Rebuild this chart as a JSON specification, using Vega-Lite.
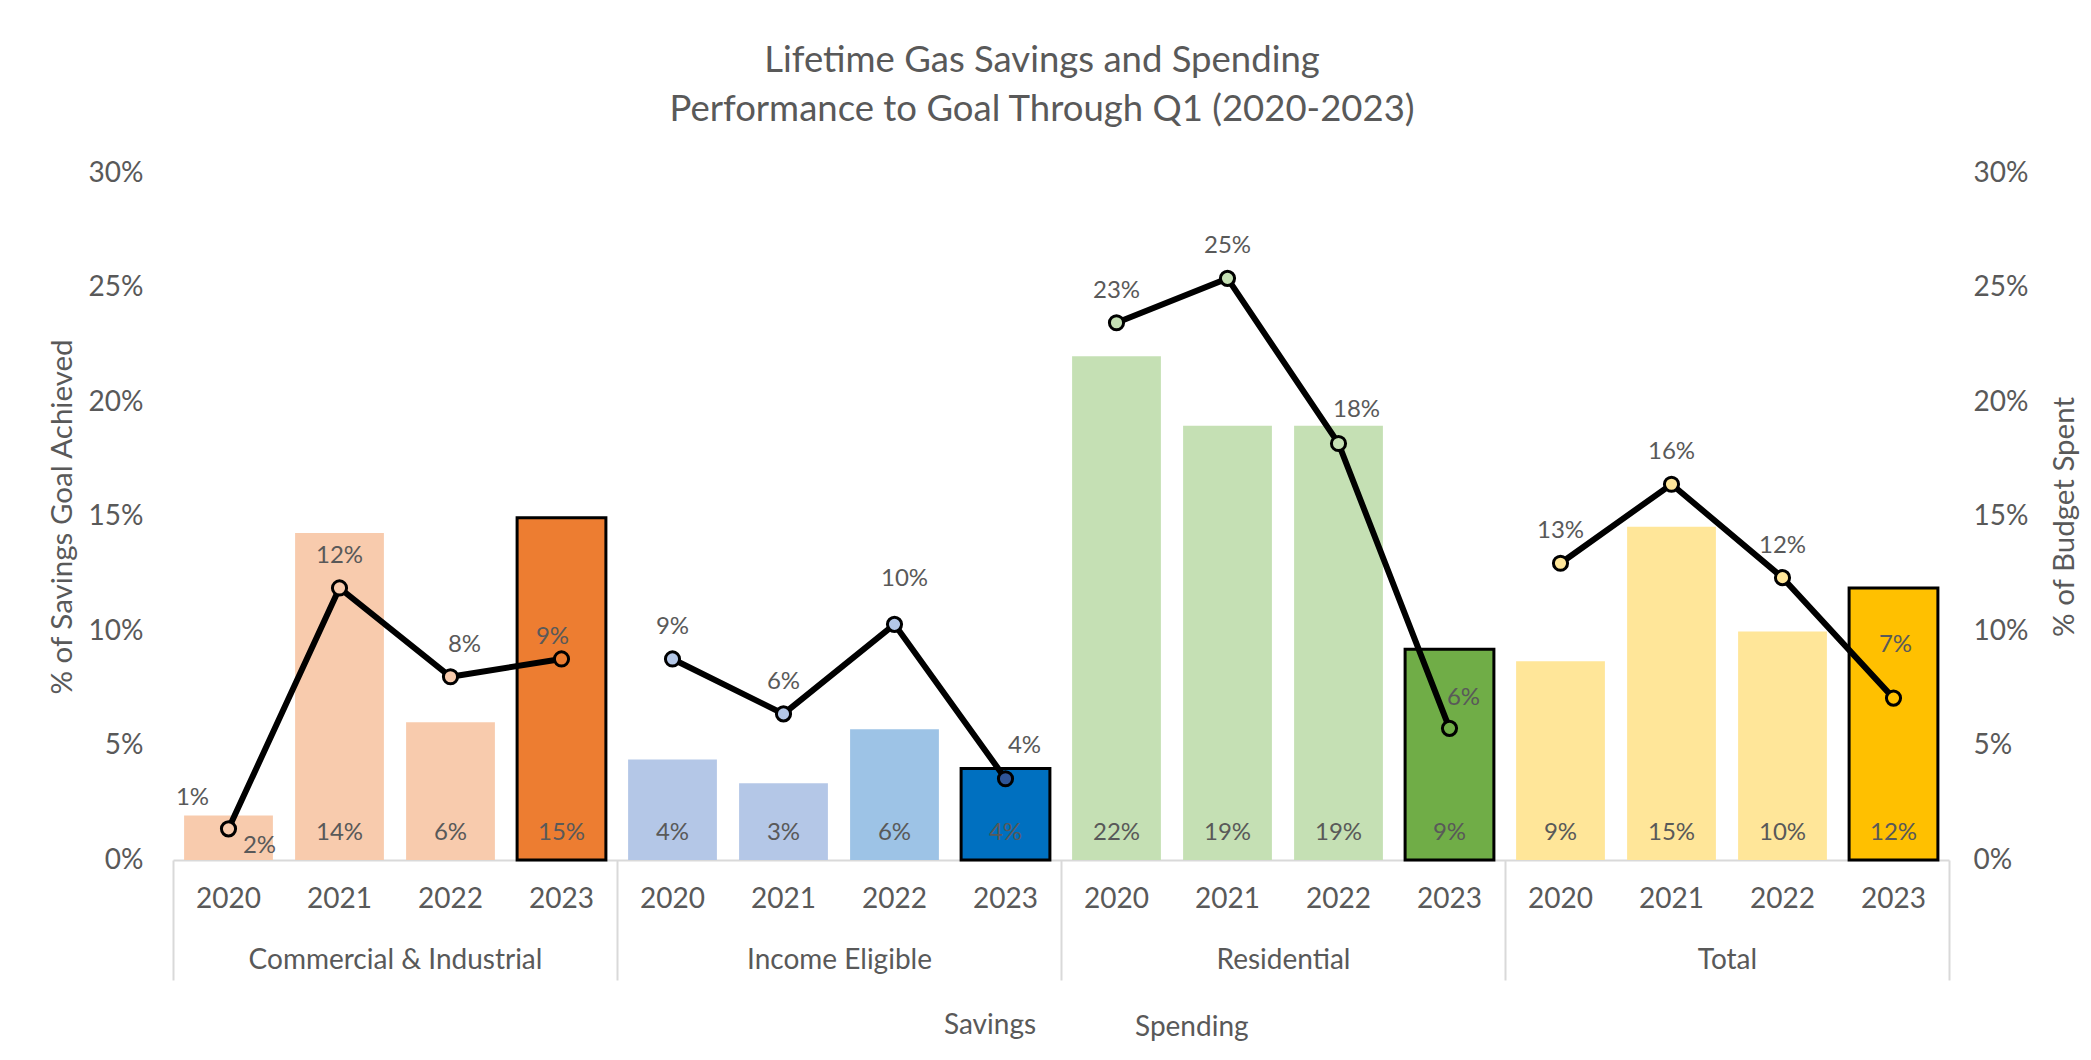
{
  "$schema": "https://vega.github.io/schema/vega-lite/v6.json",
  "width": 1776,
  "height": 687,
  "autosize": {"type": "none"},
  "padding": {"left": 173, "top": 173, "right": 142, "bottom": 200},
  "background": "white",
  "config": {"font": "Lato", "view": {"stroke": null}},
  "title": {
    "text": ["Lifetime Gas Savings and Spending", "Performance to Goal Through Q1 (2020-2023)"],
    "fontSize": 36.5,
    "font": "Lato",
    "fontWeight": "normal",
    "color": "#595959",
    "lineHeight": 49,
    "anchor": "middle",
    "frame": "group",
    "offset": 31,
    "dx": -19
  },
  "data": {
    "values": [
      {"group": "Commercial & Industrial", "year": "2020", "savings": 0.0194, "spending": 0.0136},
      {"group": "Commercial & Industrial", "year": "2021", "savings": 0.1428, "spending": 0.1188},
      {"group": "Commercial & Industrial", "year": "2022", "savings": 0.0602, "spending": 0.0800},
      {"group": "Commercial & Industrial", "year": "2023", "savings": 0.1495, "spending": 0.0878},
      {"group": "Income Eligible", "year": "2020", "savings": 0.0439, "spending": 0.0878},
      {"group": "Income Eligible", "year": "2021", "savings": 0.0335, "spending": 0.0638},
      {"group": "Income Eligible", "year": "2022", "savings": 0.0571, "spending": 0.1029},
      {"group": "Income Eligible", "year": "2023", "savings": 0.0400, "spending": 0.0355},
      {"group": "Residential", "year": "2020", "savings": 0.2200, "spending": 0.2346},
      {"group": "Residential", "year": "2021", "savings": 0.1896, "spending": 0.2540},
      {"group": "Residential", "year": "2022", "savings": 0.1896, "spending": 0.1819},
      {"group": "Residential", "year": "2023", "savings": 0.0920, "spending": 0.0575},
      {"group": "Total", "year": "2020", "savings": 0.0868, "spending": 0.1296},
      {"group": "Total", "year": "2021", "savings": 0.1455, "spending": 0.1641},
      {"group": "Total", "year": "2022", "savings": 0.0998, "spending": 0.1233},
      {"group": "Total", "year": "2023", "savings": 0.1188, "spending": 0.0707}
    ]
  },
  "encoding": {
    "x": {
      "field": "group",
      "type": "nominal",
      "sort": ["Commercial & Industrial", "Income Eligible", "Residential", "Total"],
      "scale": {"paddingInner": 0, "paddingOuter": 0},
      "axis": {
        "title": null,
        "labelAngle": 0,
        "labelFontSize": 28,
        "labelColor": "#595959",
        "labelPadding": -20,
        "labelBaseline": "middle",
        "labelLimit": 0,
        "domainColor": "#D9D9D9",
        "domainWidth": 2,
        "tickColor": "#D9D9D9",
        "tickWidth": 2,
        "tickSize": 120,
        "tickBand": "extent",
        "grid": false
      }
    },
    "xOffset": {
      "field": "year",
      "type": "nominal",
      "sort": ["2020", "2021", "2022", "2023"],
      "scale": {"paddingInner": 0.2, "paddingOuter": 0.1}
    }
  },
  "layer": [
    {
      "encoding": {
        "y": {
          "field": "savings",
          "type": "quantitative",
          "scale": {"domain": [0, 0.3]},
          "axis": {
            "orient": "left",
            "values": [0, 0.05, 0.1, 0.15, 0.2, 0.25, 0.3],
            "format": ".0%",
            "grid": false,
            "domain": false,
            "ticks": false,
            "labelFontSize": 28,
            "labelColor": "#595959",
            "labelPadding": 30,
            "title": "% of Savings Goal Achieved",
            "titleFontSize": 29.5,
            "titleFontWeight": "normal",
            "titleColor": "#595959",
            "titlePadding": 11
          }
        }
      },
      "layer": [
        {
          "mark": {"type": "bar", "stroke": "black"},
          "encoding": {
            "fill": {
              "field": "group",
              "type": "nominal",
              "legend": null,
              "scale": {
                "domain": ["Commercial & Industrial", "Income Eligible", "Residential", "Total"],
                "range": ["#F8CBAD", "#B4C7E7", "#C5E0B4", "#FFE699"]
              },
              "condition": [
                {"test": "datum.year === '2023' && datum.group === 'Commercial & Industrial'", "value": "#ED7D31"},
                {"test": "datum.year === '2023' && datum.group === 'Income Eligible'", "value": "#0070C0"},
                {"test": "datum.year === '2023' && datum.group === 'Residential'", "value": "#70AD47"},
                {"test": "datum.year === '2023' && datum.group === 'Total'", "value": "#FFC000"},
                {"test": "datum.year === '2022' && datum.group === 'Income Eligible'", "value": "#9DC3E6"}
              ]
            },
            "strokeWidth": {"condition": {"test": "datum.year === '2023'", "value": 3}, "value": 0}
          }
        },
        {
          "transform": [{"filter": "!(datum.group === 'Commercial & Industrial' && datum.year === '2020')"}],
          "mark": {"type": "text", "baseline": "middle", "dy": -27, "fontSize": 24, "color": "#595959"},
          "encoding": {
            "y": {"datum": 0},
            "text": {"field": "savings", "type": "quantitative", "format": ".0%"}
          }
        },
        {
          "transform": [{"filter": "datum.group === 'Commercial & Industrial' && datum.year === '2020'"}],
          "mark": {"type": "text", "baseline": "middle", "dx": 31, "dy": -14, "fontSize": 24, "color": "#595959"},
          "encoding": {
            "y": {"datum": 0},
            "text": {"field": "savings", "type": "quantitative", "format": ".0%"}
          }
        },
        {
          "mark": {"type": "text", "baseline": "middle", "dy": 40, "fontSize": 28, "color": "#595959"},
          "encoding": {
            "y": {"datum": 0},
            "text": {"field": "year", "type": "nominal"}
          }
        }
      ]
    },
    {
      "encoding": {
        "y": {
          "field": "spending",
          "type": "quantitative",
          "scale": {"domain": [0, 0.3]},
          "axis": {
            "orient": "right",
            "values": [0, 0.05, 0.1, 0.15, 0.2, 0.25, 0.3],
            "format": ".0%",
            "grid": false,
            "domain": false,
            "ticks": false,
            "labelFontSize": 28,
            "labelColor": "#595959",
            "labelPadding": 24,
            "title": "% of Budget Spent",
            "titleFontSize": 29.5,
            "titleFontWeight": "normal",
            "titleColor": "#595959",
            "titleAngle": 270,
            "titlePadding": 52
          }
        }
      },
      "layer": [
        {
          "mark": {"type": "line", "color": "black", "strokeWidth": 6},
          "encoding": {"detail": {"field": "group", "type": "nominal"}}
        },
        {
          "mark": {"type": "point", "filled": true, "size": 200, "stroke": "black", "strokeWidth": 3, "opacity": 1},
          "encoding": {
            "fill": {
              "field": "group",
              "type": "nominal",
              "legend": null,
              "condition": [
                {"test": "datum.year === '2023' && datum.group === 'Commercial & Industrial'", "value": "#ED7D31"},
                {"test": "datum.year === '2023' && datum.group === 'Income Eligible'", "value": "#2F5597"},
                {"test": "datum.year === '2023' && datum.group === 'Residential'", "value": "#70AD47"},
                {"test": "datum.year === '2023' && datum.group === 'Total'", "value": "#FFC000"}
              ]
            }
          }
        },
        {
          "transform": [{"filter": "!((datum.group === 'Commercial & Industrial' && (datum.year === '2020' || datum.year === '2022' || datum.year === '2023')) || (datum.group === 'Income Eligible' && (datum.year === '2022' || datum.year === '2023')) || (datum.group === 'Residential' && (datum.year === '2022' || datum.year === '2023')) || (datum.group === 'Total' && datum.year === '2023'))"}],
          "mark": {"type": "text", "baseline": "middle", "dy": -32, "fontSize": 24, "color": "#595959"},
          "encoding": {"text": {"field": "spending", "type": "quantitative", "format": ".0%"}}
        },
        {
          "transform": [{"filter": "datum.group === 'Commercial & Industrial' && datum.year === '2020'"}],
          "mark": {"type": "text", "baseline": "middle", "dx": -36, "dy": -31, "fontSize": 24, "color": "#595959"},
          "encoding": {"text": {"field": "spending", "type": "quantitative", "format": ".0%"}}
        },
        {
          "transform": [{"filter": "datum.group === 'Commercial & Industrial' && datum.year === '2022'"}],
          "mark": {"type": "text", "baseline": "middle", "dx": 14, "dy": -32, "fontSize": 24, "color": "#595959"},
          "encoding": {"text": {"field": "spending", "type": "quantitative", "format": ".0%"}}
        },
        {
          "transform": [{"filter": "datum.group === 'Commercial & Industrial' && datum.year === '2023'"}],
          "mark": {"type": "text", "baseline": "middle", "dx": -9, "dy": -22, "fontSize": 24, "color": "#595959"},
          "encoding": {"text": {"field": "spending", "type": "quantitative", "format": ".0%"}}
        },
        {
          "transform": [{"filter": "datum.group === 'Income Eligible' && datum.year === '2022'"}],
          "mark": {"type": "text", "baseline": "middle", "dx": 10, "dy": -45, "fontSize": 24, "color": "#595959"},
          "encoding": {"text": {"field": "spending", "type": "quantitative", "format": ".0%"}}
        },
        {
          "transform": [{"filter": "datum.group === 'Income Eligible' && datum.year === '2023'"}],
          "mark": {"type": "text", "baseline": "middle", "dx": 19, "dy": -33, "fontSize": 24, "color": "#595959"},
          "encoding": {"text": {"field": "spending", "type": "quantitative", "format": ".0%"}}
        },
        {
          "transform": [{"filter": "datum.group === 'Residential' && datum.year === '2022'"}],
          "mark": {"type": "text", "baseline": "middle", "dx": 18, "dy": -33, "fontSize": 24, "color": "#595959"},
          "encoding": {"text": {"field": "spending", "type": "quantitative", "format": ".0%"}}
        },
        {
          "transform": [{"filter": "datum.group === 'Residential' && datum.year === '2023'"}],
          "mark": {"type": "text", "baseline": "middle", "dx": 14, "dy": -30, "fontSize": 24, "color": "#595959"},
          "encoding": {"text": {"field": "spending", "type": "quantitative", "format": ".0%"}}
        },
        {
          "transform": [{"filter": "datum.group === 'Total' && datum.year === '2023'"}],
          "mark": {"type": "text", "baseline": "middle", "dx": 2, "dy": -53, "fontSize": 24, "color": "#595959"},
          "encoding": {"text": {"field": "spending", "type": "quantitative", "format": ".0%"}}
        }
      ]
    },
    {
      "transform": [{"filter": "false"}],
      "mark": {"type": "point", "filled": true, "fill": "white", "stroke": "black", "strokeWidth": 3},
      "encoding": {
        "shape": {
          "datum": "Spending",
          "type": "nominal",
          "scale": {
            "domain": ["Savings", "Spending"],
            "range": ["square", "stroke"]
          },
          "legend": {
            "orient": "none",
            "legendX": 741,
            "legendY": 839,
            "direction": "horizontal",
            "title": null,
            "labelFontSize": 28,
            "labelColor": "#595959",
            "symbolSize": 576,
            "symbolStrokeWidth": 3,
            "symbolFillColor": "white",
            "symbolStrokeColor": "black",
            "symbolOpacity": 1,
            "labelOffset": 2,
            "columnPadding": 64,
            "encode": {
              "symbols": {
                "strokeWidth": {"condition": {"test": "datum.value === 'Spending'", "value": 5}, "value": 2.5}
              }
            }
          }
        }
      }
    }
  ],
  "resolve": {"scale": {"y": "independent"}}
}
